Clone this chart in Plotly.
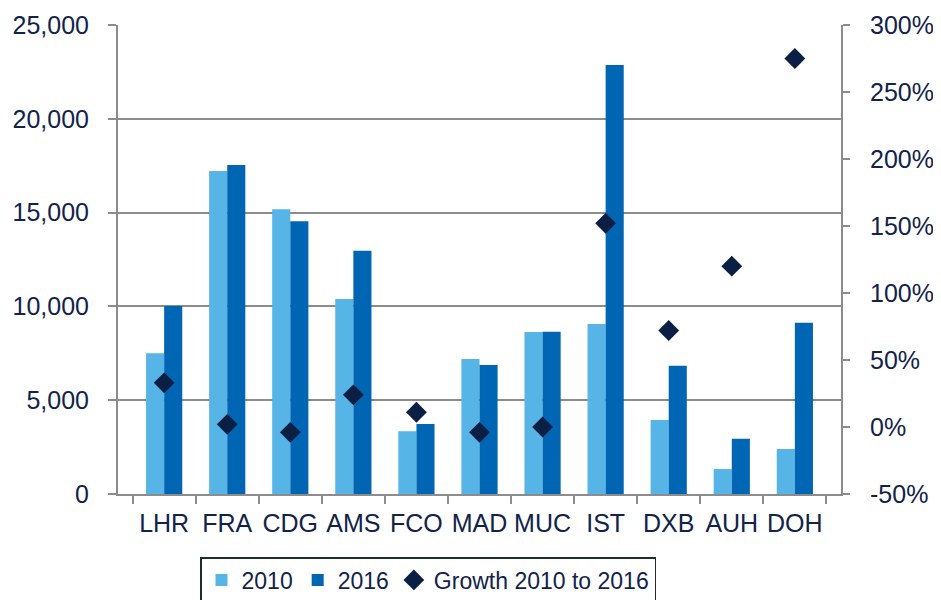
import plotly.graph_objects as go

# Data
airports = ['LHR', 'FRA', 'CDG', 'AMS', 'FCO', 'MAD', 'MUC', 'IST', 'DXB', 'AUH', 'DOH']
values_2010 = [7500, 17220, 15180, 10390, 3340, 7200, 8640, 9060, 3950, 1330, 2400]
values_2016 = [10020, 17540, 14540, 12970, 3730, 6880, 8650, 22870, 6840, 2950, 9130]
growth = [33, 2, -4, 24, 11, -4, 0, 152, 72, 120, 275]
growth_ticks = [-50, 0, 50, 100, 150, 200, 250, 300]
growth_labels = ['-50%', '0%', '50%', '100%', '150%', '200%', '250%', '300%']

navy = '#0B1F44'
grid = '#8C8C8C'
font = dict(family='Liberation Sans, Arial', size=25, color='#12224A')

fig = go.Figure()
fig.add_trace(go.Bar(x=airports, y=values_2010, name='2010', marker=dict(color='#56B4E6', line_width=0)))
fig.add_trace(go.Bar(x=airports, y=values_2016, name='2016', marker=dict(color='#0066B3', line_width=0)))
fig.add_trace(go.Scatter(x=airports, y=growth, name='Growth 2010 to 2016', mode='markers', yaxis='y2',
                         marker=dict(symbol='diamond', size=16, color=navy)))

# page body has an 8px margin, so the figure is 8px smaller and margins shifted
fig.update_layout(
    width=933, height=592,
    margin=dict(l=110, r=100, t=17, b=106),
    plot_bgcolor='white', paper_bgcolor='white',
    font=font,
    barmode='group', bargap=0.426, bargroupgap=0,
    xaxis=dict(showline=True, linecolor=grid, linewidth=2, ticks='outside', tickson='boundaries',
               ticklen=8, tickcolor=grid, tickwidth=2, showgrid=False, automargin=False, tickangle=0,
               ticklabelstandoff=6),
    yaxis=dict(range=[0, 25000], dtick=5000, tickformat=',', showgrid=True, gridcolor=grid, gridwidth=2,
               showline=True, linecolor=grid, linewidth=2, ticks='outside', ticklen=8, tickcolor=grid,
               tickwidth=2, zeroline=False, automargin=False, ticklabelstandoff=14),
    yaxis2=dict(range=[-50, 300], tickvals=growth_ticks, ticktext=growth_labels, overlaying='y', side='right',
                showgrid=False, showline=True, linecolor=grid, linewidth=2, ticks='outside', ticklen=7,
                tickcolor=grid, tickwidth=2, zeroline=False, automargin=False, ticklabelstandoff=15),
    legend=dict(orientation='h', xref='container', x=0.2058, xanchor='left',
                yref='container', y=0.0726, yanchor='top', itemwidth=30,
                bordercolor='#1E2E2A', borderwidth=1.5, font=dict(size=23), traceorder='normal'),
    showlegend=True,
)

fig.write_html("out.html")
